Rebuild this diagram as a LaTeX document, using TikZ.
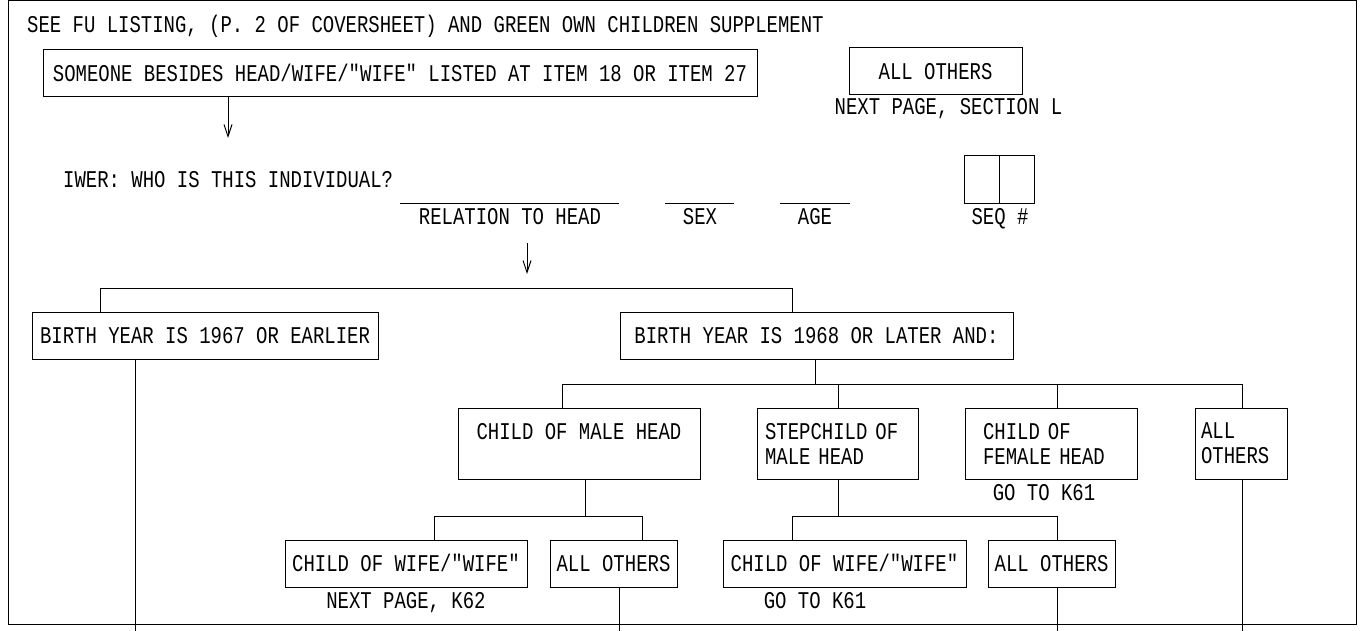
\documentclass[tikz,border=0pt]{standalone}
\usepackage{fontspec}
\usetikzlibrary{arrows.meta}
\newfontfamily\cadfont[FakeStretch=0.79]{Liberation Mono}
\tikzset{
  x=1pt,y=-1pt,
  every node/.style={font=\cadfont\fontsize{24}{25}\selectfont, inner sep=0pt},
  ln/.style={line width=1pt},
  box/.style={draw, line width=1pt, text height=16pt, text depth=0pt},
  mbox/.style={draw, line width=1pt, align=left},
  lbl/.style={anchor=base},
  arr/.style={ln, -{Straight Barb[length=12pt,width=8pt]}},
}
\begin{document}
\begin{tikzpicture}
\useasboundingbox (0,0) rectangle (1364,631);
\draw[ln] (8,0.5) rectangle (1356.5,624);

\node[lbl, anchor=base west] (title) at (27,33) {SEE FU LISTING, (P. 2 OF COVERSHEET) AND GREEN OWN CHILDREN SUPPLEMENT};
\node[box, minimum width=714, minimum height=47] (someone) at (400,73.5) {SOMEONE BESIDES HEAD/WIFE/"WIFE" LISTED AT ITEM 18 OR ITEM 27};
\node[box, minimum width=173, minimum height=47] (allA) at (935.5,71.5) {ALL OTHERS};
\node[lbl] (nextL) at (948.5,115) {NEXT PAGE, SECTION L};
\coordinate (a1end) at (228,138);
\draw[arr] (someone.south -| a1end) -- (a1end);

\node[lbl, anchor=base west] (iwer) at (63,187) {IWER: WHO IS THIS INDIVIDUAL?};
\coordinate (relL) at (400,203); \coordinate (relR) at (619,203);
\draw[ln] (relL) -- (relR);
\node[lbl] (rel) at (510,224) {RELATION TO HEAD};
\coordinate (sexL) at (665,203); \coordinate (sexR) at (734,203);
\draw[ln] (sexL) -- (sexR);
\node[lbl] (sex) at (700,224) {SEX};
\coordinate (ageL) at (780,203); \coordinate (ageR) at (850,203);
\draw[ln] (ageL) -- (ageR);
\node[lbl] (age) at (815,224) {AGE};
\node[draw, ln, minimum width=70, minimum height=47] (seq) at (999,179.5) {};
\draw[ln] (seq.north) -- (seq.south);
\node[lbl] (seqlbl) at (1000,224) {SEQ \#};

\coordinate (a2s) at (527,243); \coordinate (a2e) at (527,274);
\draw[arr] (a2s) -- (a2e);

\node[box, minimum width=346, minimum height=47] (birthA) at (205,335.5) {BIRTH YEAR IS 1967 OR EARLIER};
\node[box, minimum width=393, minimum height=47] (birthB) at (816.5,335.5) {BIRTH YEAR IS 1968 OR LATER AND:};
\coordinate (t1) at (100,288); \coordinate (t2) at (792,288);
\draw[ln] (t1 |- birthA.north) -- (t1) -- (t2) -- (t2 |- birthB.north);
\coordinate (endA) at (135,631);
\draw[ln] (birthA.south -| endA) -- (endA);

\node[draw, ln, align=center, minimum width=242, minimum height=71] (cmh) at (579,443.5) {CHILD OF MALE HEAD\\\phantom{X}};
\node[mbox, text width=145, inner xsep=8, minimum height=71] (step) at (837.5,443.5) {STEPCHILD OF\\MALE HEAD};
\node[mbox, text width=136, inner xsep=18, minimum height=71] (fem) at (1051,443.5) {CHILD OF\\FEMALE HEAD};
\node[mbox, text width=80, inner xsep=6, minimum height=71] (oth) at (1241,443.5) {ALL\\OTHERS};
\node[lbl] (gofem) at (1044,500) {GO TO K61};

\coordinate (b2) at (815,384);
\draw[ln] (birthB.south -| b2) -- (b2);
\coordinate (r2L) at (562,384); \coordinate (r2R) at (1242,384);
\draw[ln] (r2L |- cmh.north) -- (r2L) -- (r2R) -- (r2R |- oth.north);
\coordinate (s1) at (838,384); \draw[ln] (s1) -- (s1 |- step.north);
\coordinate (f1) at (1057,384); \draw[ln] (f1) -- (f1 |- fem.north);
\coordinate (othEnd) at (1242,631);
\draw[ln] (oth.south -| othEnd) -- (othEnd);

\node[box, minimum width=242, minimum height=47] (cww1) at (406,563.5) {CHILD OF WIFE/"WIFE"};
\node[box, minimum width=127, minimum height=47] (ao1) at (613.5,563.5) {ALL OTHERS};
\node[lbl] (k62) at (406,608) {NEXT PAGE, K62};
\node[box, minimum width=243, minimum height=47] (cww2) at (844.5,563.5) {CHILD OF WIFE/"WIFE"};
\node[box, minimum width=127, minimum height=47] (ao2) at (1051.5,563.5) {ALL OTHERS};
\node[lbl] (k61) at (815,608) {GO TO K61};

\coordinate (c1) at (585,516);
\draw[ln] (cmh.south -| c1) -- (c1);
\coordinate (r3a) at (434,516); \coordinate (r3b) at (642,516);
\draw[ln] (r3a |- cww1.north) -- (r3a) -- (r3b) -- (r3b |- ao1.north);
\coordinate (ao1End) at (619,631);
\draw[ln] (ao1.south -| ao1End) -- (ao1End);

\coordinate (c2) at (838,516);
\draw[ln] (step.south -| c2) -- (c2);
\coordinate (r3c) at (792,516); \coordinate (r3d) at (1057,516);
\draw[ln] (r3c |- cww2.north) -- (r3c) -- (r3d) -- (r3d |- ao2.north);
\coordinate (ao2End) at (1057,631);
\draw[ln] (ao2.south -| ao2End) -- (ao2End);
\end{tikzpicture}
\end{document}
